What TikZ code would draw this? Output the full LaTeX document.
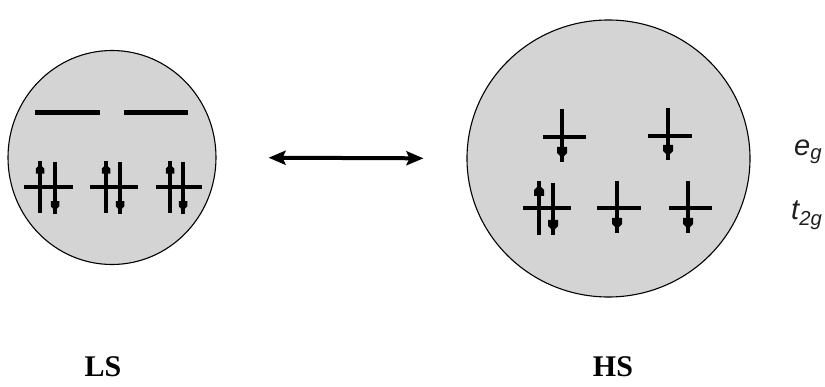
\documentclass[tikz,border=0pt]{standalone}
\usepackage{fontspec}
\setmainfont{Liberation Serif}
\newfontfamily\labfont{Liberation Sans}
\usetikzlibrary{shapes.geometric,arrows.meta}
\tikzset{
  ball/.style={ellipse, draw=black, line width=1.1pt, fill=black!17, inner sep=0pt},
  lvl/.style={line width=4.5pt},
  spin/.style={line width=3.3pt},
  statelabel/.style={font=\fontsize{30}{34}\selectfont\bfseries, anchor=base},
  orblabel/.style={font=\fontsize{29}{32}\selectfont\labfont\itshape, text=black!88, anchor=base west, inner sep=0pt},
  swap/.style={line width=4pt, {Stealth[length=17pt,width=14pt,inset=3pt]}-{Stealth[length=17pt,width=14pt,inset=3pt]}}
}
% spin up: x, top, bottom, scale
\newcommand\spinup[4]{%
  \draw[spin] (#1,#2) -- (#1,#3);
  \fill ({#1},{#2+4*#4}) -- ({#1+5*#4},{#2+9*#4}) -- ({#1+5*#4},{#2+15*#4}) -- ({#1-5*#4},{#2+15*#4}) -- ({#1-5*#4},{#2+9*#4}) -- cycle;}
% spin down: x, top, bottom, scale
\newcommand\spindn[4]{%
  \draw[spin] (#1,#2) -- (#1,#3);
  \fill ({#1},{#3-4*#4}) -- ({#1+5*#4},{#3-9*#4}) -- ({#1+5*#4},{#3-15*#4}) -- ({#1-5*#4},{#3-15*#4}) -- ({#1-5*#4},{#3-9*#4}) -- cycle;}
\begin{document}
\begin{tikzpicture}[x=1pt,y=-1pt]
\useasboundingbox (0,0) rectangle (825,387);
\node[ball, minimum width=208pt, minimum height=214pt] (ls) at (112,157.5) {};
\node[ball, minimum width=283pt, minimum height=277pt] (hs) at (608.5,158.5) {};
% LS e_g
\draw[lvl, line width=5pt] (35,113) -- (100,113);
\draw[lvl, line width=5pt] (124,113) -- (188,113);
% LS t_2g
\draw[lvl, line width=4.2pt] (24,187) -- (73,187);
\draw[lvl, line width=4.2pt] (90,187) -- (138,187);
\draw[lvl, line width=4.2pt] (156,187) -- (202,187);
\spinup{40}{161}{213}{0.85}
\spindn{55}{162}{214}{0.85}
\spinup{106}{161}{213}{0.85}
\spindn{120}{162}{214}{0.85}
\spinup{170}{161}{213}{0.85}
\spindn{183}{162}{214}{0.85}
% HS e_g
\draw[lvl] (543,137) -- (586,137);
\draw[lvl] (648,136) -- (692,136);
\spindn{562}{109}{162}{1}
\spindn{668}{108}{160}{1}
% HS t_2g
\draw[lvl] (523,208) -- (571,208);
\draw[lvl] (597,208) -- (641,208);
\draw[lvl] (669,208) -- (712,208);
\spinup{539}{181}{235}{1}
\spindn{553}{183}{235}{1}
\spindn{617}{181}{233}{1}
\spindn{688}{181}{233}{1}
% exchange arrow
\draw[swap, shorten <=52pt, shorten >=43pt] (ls.east) -- (hs.west);
% labels
\node[orblabel] (eg) at (794,156) {e\textsubscript{g}};
\node[orblabel] (t2g) at (791,220) {t\textsubscript{2g}};
\node[statelabel] (lsl) at (103,377) {LS};
\node[statelabel] (hsl) at (613,377) {HS};
\end{tikzpicture}
\end{document}
